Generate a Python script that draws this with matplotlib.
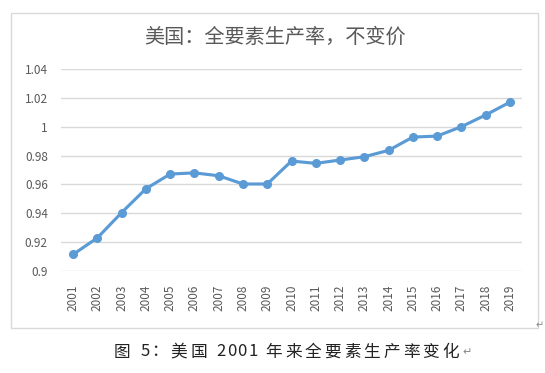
import matplotlib.pyplot as plt
from matplotlib.patches import Rectangle

plt.rcParams['font.family'] = ['Noto Sans CJK SC', 'DejaVu Sans']

years = [str(y) for y in range(2001, 2020)]
tfp = [0.9115, 0.923, 0.9405, 0.957, 0.9672, 0.968, 0.966, 0.9603, 0.9603,
       0.9762, 0.9746, 0.9769, 0.9792, 0.9836, 0.9928, 0.9935, 1.0, 1.0081, 1.017]
yticks = [0.9, 0.92, 0.94, 0.96, 0.98, 1.0, 1.02, 1.04]
ytick_labels = ['0.9', '0.92', '0.94', '0.96', '0.98', '1', '1.02', '1.04']
title = '美国：全要素生产率，不变价'
caption = '图 5：美国 2001 年来全要素生产率变化'

fig = plt.figure(figsize=(5.45, 3.73), dpi=100)
fig.patch.set_facecolor('white')

# chart frame
fig.patches.append(Rectangle((10.5 / 545, 1 - 328 / 373), (538 - 10.5) / 545, (328 - 13) / 373,
                             transform=fig.transFigure, fill=False, edgecolor='#D9D9D9', lw=1))

ax = fig.add_axes([61 / 545, 1 - 271 / 373, (522 - 61) / 545, (271 - 69) / 373])
x = range(len(years))
ax.plot(x, tfp, color='#5B9BD5', lw=2.25, marker='o', markersize=5.5, zorder=3)
ax.set_xlim(-0.5, len(years) - 0.5)
ax.set_ylim(0.9, 1.04)
ax.set_yticks(yticks)
ax.set_yticklabels(ytick_labels)
ax.set_xticks(list(x))
ax.set_xticklabels(years, rotation=90)
ax.grid(axis='y', color='#D9D9D9', lw=1)
ax.set_axisbelow(True)
for s in ax.spines.values():
    s.set_visible(False)
ax.tick_params(length=0, labelsize=8.5, labelcolor='#595959')
ax.tick_params(axis='x', pad=10)
ax.tick_params(axis='y', pad=9.5)

fig.text(275 / 545, 1 - 37 / 373, title, ha='center', va='center',
         fontsize=14.5, color='#595959')

# caption with wide letter spacing, like the word document
renderer = fig.canvas.get_renderer()
xpos = 114.0
for ch in caption:
    t = fig.text(xpos / 545, 1 - 352 / 373, ch, ha='left', va='center',
                 fontsize=12, color='#222222')
    w = t.get_window_extent(renderer).width
    xpos += w + (1.2 if ch.isdigit() else 3.0)
fig.text((xpos + 1) / 545, 1 - 352 / 373, '↵', ha='left', va='center', fontsize=8, color='#888888',
         family=['DejaVu Sans'])
fig.text(536 / 545, 1 - 325 / 373, '↵', ha='left', va='center', fontsize=7, color='#888888',
         family=['DejaVu Sans'])

fig.savefig('out.png', dpi=100)
